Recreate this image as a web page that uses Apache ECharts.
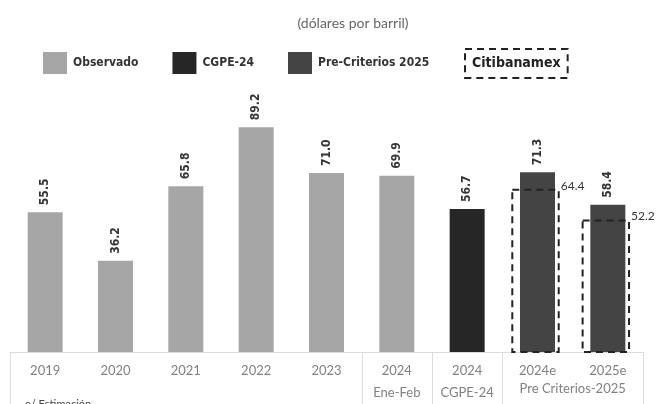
<!DOCTYPE html>
<html>
<head>
<meta charset="utf-8">
<script src="https://cdn.jsdelivr.net/npm/echarts@6/dist/echarts.min.js"></script>
<style>html,body{margin:0;padding:0;background:#fff;}#c{width:663px;height:404px;}</style>
</head>
<body>
<div id="c"></div>
<script>
const categories = ['2019','2020','2021','2022','2023','2024 Ene-Feb','2024 CGPE-24','2024e','2025e'];
const tickTop = ['2019','2020','2021','2022','2023','2024','2024','2024e','2025e'];
const tickBottom = ['','','','','','Ene-Feb','CGPE-24','',''];
const groupLabel = 'Pre Criterios-2025';
const observado = [55.5, 36.2, 65.8, 89.2, 71.0, 69.9, null, null, null];
const cgpe = [null, null, null, null, null, null, 56.7, null, null];
const preCriterios = [null, null, null, null, null, null, null, 71.3, 58.4];
const citibanamex = [null, null, null, null, null, null, null, 64.4, 52.2];

const chart = echarts.init(document.getElementById('c'), null, {renderer: 'canvas'});

// combined bar values, used only for the rotated value labels
const allBars = categories.map((c, i) => {
  const v = [observado[i], cgpe[i], preCriterios[i]].find(x => x != null);
  return [i, v];
});

const option = {
  animation: false,
  backgroundColor: '#fff',
  title: {
    text: '(dólares por barril)', left: 348, top: 11, textAlign: 'center',
    textStyle: {fontFamily: 'Lato', fontWeight: 'normal', fontSize: 14, color: '#666'}
  },
  legend: [
    {
      left: 38, top: 47, itemWidth: 24, itemHeight: 22, itemGap: 34, selectedMode: false, icon: 'rect',
      textStyle: {fontFamily: 'DejaVu Sans Condensed', fontWeight: 'bold', fontSize: 12, color: '#333', padding: [0, 0, 0, 1]},
      data: [
        {name: 'Observado', itemStyle: {color: '#a6a6a6'}},
        {name: 'CGPE-24', itemStyle: {color: '#262626'}},
        {name: 'Pre-Criterios 2025', itemStyle: {color: '#444444'}}
      ]
    },
    {
      left: 455, top: 43, itemWidth: 0, itemHeight: 22, selectedMode: false, icon: 'none',
      data: [
        {name: 'Citibanamex', itemStyle: {opacity: 0}, textStyle: {
          fontSize: 14, color: '#222', fontFamily: 'DejaVu Sans Condensed', fontWeight: 'bold',
          borderColor: '#222', borderWidth: 2, borderType: [7, 5], padding: [8, 7, 7, 7]
        }}
      ]
    }
  ],
  grid: {left: 10, right: 20, top: 100, bottom: 52},
  xAxis: {
    type: 'category', data: categories,
    axisLine: {show: true, lineStyle: {color: '#dcdcdc', width: 1}},
    axisTick: {show: false},
    axisLabel: {
      interval: 0, margin: 8, verticalAlign: 'top', lineHeight: 22,
      fontFamily: 'Lato', fontSize: 13, color: '#808080',
      formatter: (v, i) => tickTop[i] + (tickBottom[i] ? '\n' + tickBottom[i] : '')
    }
  },
  yAxis: {type: 'value', min: 0, max: 100, show: false, splitLine: {show: false}},
  series: [
    {name: 'Observado', type: 'bar', stack: 's', barWidth: 35, data: observado, itemStyle: {color: '#a6a6a6'}},
    {name: 'CGPE-24', type: 'bar', stack: 's', barWidth: 35, data: cgpe, itemStyle: {color: '#262626'}},
    {name: 'Pre-Criterios 2025', type: 'bar', stack: 's', barWidth: 35, data: preCriterios, itemStyle: {color: '#444444'}},
    {name: 'valores', type: 'custom', z: 6, silent: true,
      data: allBars,
      renderItem: function (params, api) {
        const p = api.coord([api.value(0), api.value(1)]);
        return {
          type: 'text', x: p[0], y: p[1] - 7, rotation: Math.PI / 2,
          style: {text: Number(api.value(1)).toFixed(1), fontFamily: 'DejaVu Sans Condensed',
            fontWeight: 'bold', fontSize: 12, fill: '#333', align: 'left', verticalAlign: 'middle'}
        };
      }
    },
    {name: 'Citibanamex', type: 'custom', z: 5,
      data: citibanamex.map((v, i) => [i, v]).filter(d => d[1] != null),
      renderItem: function (params, api) {
        const top = api.coord([api.value(0), api.value(1)]);
        const base = api.coord([api.value(0), 0]);
        const w = api.size([1, 0])[0] * 0.66;
        const x0 = top[0] - w / 2 - 2;
        return {
          type: 'group',
          children: [
            {type: 'rect', shape: {x: x0, y: top[1], width: w, height: base[1] - top[1]},
              style: {fill: null, stroke: '#222', lineWidth: 2, lineDash: [7, 5]}},
            {type: 'text', x: x0 + w + 2, y: top[1] + 2,
              style: {text: Number(api.value(1)).toFixed(1), fontFamily: 'Lato', fontSize: 12,
                fill: '#333', align: 'left', verticalAlign: 'bottom'}}
          ]
        };
      }
    }
  ]
};
chart.setOption(option);

// table lines and group label, placed from the axis scale
const px = i => chart.convertToPixel({xAxisIndex: 0}, i);
const band = px(1) - px(0);
const axisY = chart.convertToPixel({yAxisIndex: 0}, 0);
const edges = [0, 5, 6, 7].map(i => px(i) - band / 2).concat([px(8) + band / 2]);
const graphics = edges.map(x => ({
  type: 'line', silent: true,
  shape: {x1: Math.round(x) + 0.5, y1: axisY, x2: Math.round(x) + 0.5, y2: 404},
  style: {stroke: '#dcdcdc', lineWidth: 1}
}));
graphics.push({
  type: 'text', x: (px(7) + px(8)) / 2, y: axisY + 30,
  style: {text: groupLabel, fontFamily: 'Lato', fontSize: 13, fill: '#808080', align: 'center', verticalAlign: 'top'}
});
graphics.push({
  type: 'text', x: 25, y: 399,
  style: {text: 'e/ Estimación', fontFamily: 'Lato', fontSize: 11, fill: '#444', align: 'left', verticalAlign: 'top'}
});
chart.setOption({graphic: graphics});
</script>
</body>
</html>
